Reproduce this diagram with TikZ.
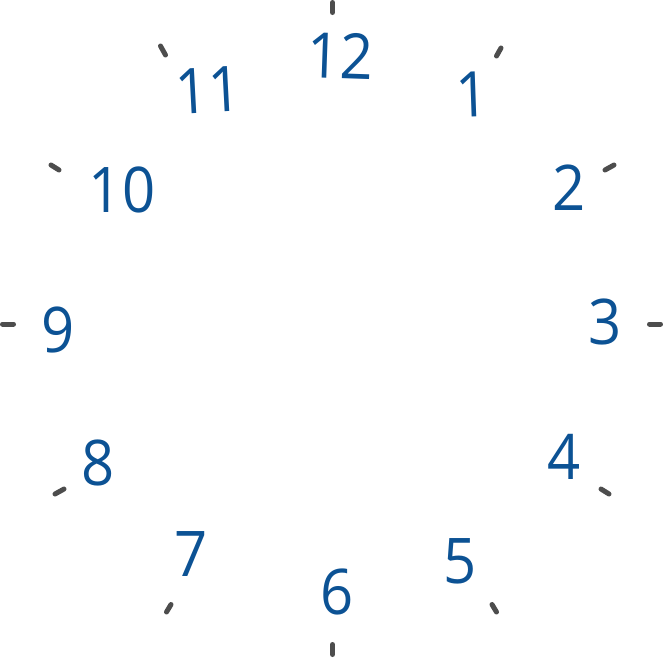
\documentclass[tikz,border=0pt]{standalone}
\usepackage{fontspec}
\setmainfont[FakeStretch=0.92]{Open Sans}
\definecolor{numblue}{HTML}{0C5294}
\definecolor{tickgray}{HTML}{4D4D4D}
\begin{document}
\begin{tikzpicture}[x=1pt,y=-1pt,
  tickline/.style={draw=tickgray,line width=5pt,line cap=round},
  num/.style={text=numblue,inner sep=0pt,anchor=center,font=\fontsize{63}{63}\selectfont}]
\useasboundingbox (0,0) rectangle (663,657);
% tick ends
\coordinate (t12a) at (332.5,2.5);  \coordinate (t12b) at (332.5,12.5);
\coordinate (t1a) at (501,48);      \coordinate (t1b) at (496.5,56);
\coordinate (t2a) at (614,165);     \coordinate (t2b) at (605,170);
\coordinate (t3a) at (660.5,324);   \coordinate (t3b) at (649.5,324);
\coordinate (t4a) at (609,494);     \coordinate (t4b) at (601,489);
\coordinate (t5a) at (496.5,612);   \coordinate (t5b) at (492,604.5);
\coordinate (t6a) at (332.5,654.5); \coordinate (t6b) at (332.5,644.5);
\coordinate (t7a) at (166.5,612);   \coordinate (t7b) at (171,604.5);
\coordinate (t8a) at (55,494);      \coordinate (t8b) at (64,489);
\coordinate (t9a) at (2.5,324);     \coordinate (t9b) at (13.5,324);
\coordinate (t10a) at (51,165);     \coordinate (t10b) at (59,170);
\coordinate (t11a) at (160.5,46);   \coordinate (t11b) at (165.5,55);
\foreach \h in {1,...,12}{\draw[tickline] (t\h a) -- (t\h b);}
% numbers
\node[num,rotate=-2] (n12) at (340,56) {12};
\node[num,rotate=2]  (n1)  at (472,94) {1};
\node[num] (n2)  at (569,188) {2};
\node[num] (n3)  at (605,322) {3};
\node[num] (n4)  at (564,457) {4};
\node[num] (n5)  at (460,561) {5};
\node[num] (n6)  at (337,592) {6};
\node[num] (n7)  at (191,554) {7};
\node[num] (n8)  at (98,463) {8};
\node[num] (n9)  at (58,330) {9};
\node[num] (n10) at (122,190) {10};
\node[num,rotate=3] (n11) at (208,90) {11};
\end{tikzpicture}
\end{document}
